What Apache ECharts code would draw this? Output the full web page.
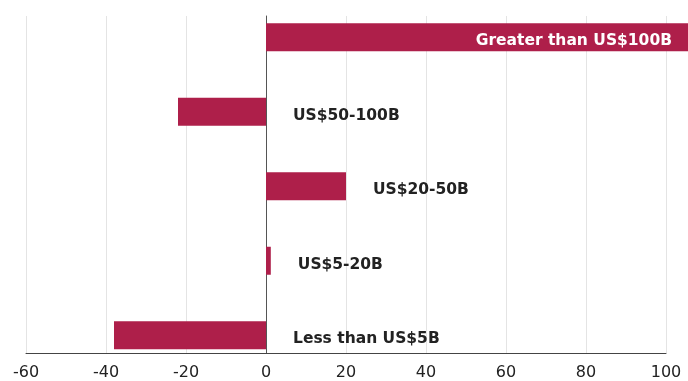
<!DOCTYPE html>
<html><head><meta charset="utf-8">
<script src="https://cdn.jsdelivr.net/npm/echarts@6/dist/echarts.min.js"></script>
<style>html,body{margin:0;padding:0;background:#fff}#c{width:688px;height:381px}</style>
</head><body><div id="c"></div>
<script>
const categories = ['Greater than US$100B', 'US$50-100B', 'US$20-50B', 'US$5-20B', 'Less than US$5B'];
const values = [106, -22, 20, 1.2, -38];
const xMin = -60, xMax = 100, xStep = 20;

const FONT = '"DejaVu Sans", sans-serif';
const chart = echarts.init(document.getElementById('c'), null, {renderer: 'canvas'});
chart.setOption({
  animation: false,
  grid: [
    {left: 26, right: 22, top: 16, bottom: 27},
    {left: 26, right: 22, top: -2.5, bottom: 8.5}
  ],
  xAxis: [
    {gridIndex: 0, type: 'value', min: xMin, max: xMax, interval: xStep,
     axisLine: {show: true, onZero: false, lineStyle: {color: '#444', width: 1}},
     axisTick: {show: false},
     splitLine: {show: true, lineStyle: {color: '#e4e4e4', width: 1}},
     axisLabel: {color: '#222', fontSize: 16, fontFamily: FONT, margin: 12}},
    {gridIndex: 1, type: 'value', min: xMin, max: xMax, show: false}
  ],
  yAxis: [
    {gridIndex: 0, type: 'category', data: categories, inverse: true,
     axisLine: {show: true, onZero: true, lineStyle: {color: '#555', width: 1}},
     axisTick: {show: false}, axisLabel: {show: false}, splitLine: {show: false}},
    {gridIndex: 1, type: 'category', data: categories, inverse: true, show: false}
  ],
  series: [{
    type: 'bar', xAxisIndex: 1, yAxisIndex: 1, barWidth: 28, clip: false,
    itemStyle: {color: '#AE1F4A'},
    data: values.map((v, i) => i === 0 ? {value: v, label: {position: 'insideRight', distance: 18, color: '#fff', offset: [0, 4]}} : v),
    label: {show: true, position: 'right', distance: 27, offset: [0, 4],
      formatter: p => categories[p.dataIndex],
      color: '#222', fontSize: 15.5, fontWeight: 'bold', fontFamily: FONT}
  }]
});
</script></body></html>
